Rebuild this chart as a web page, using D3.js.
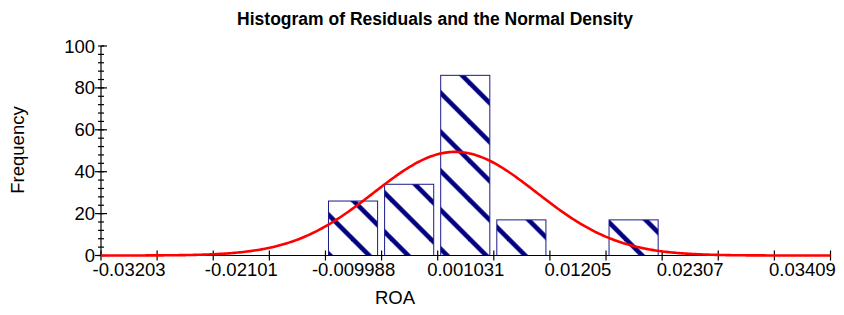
<!DOCTYPE html>
<html>
<head>
<meta charset="utf-8">
<script src="https://cdn.jsdelivr.net/npm/d3@7"></script>
<style>
  html, body { margin: 0; padding: 0; background: #fff; }
  svg { display: block; }
  text { font-family: Arial, "Liberation Sans", sans-serif; fill: #000; }
</style>
</head>
<body>
<svg id="chart" width="844" height="315"></svg>
<script>
// ---- data ----
const tickLabels = ["-0.03203", "-0.02101", "-0.009988", "0.001031", "0.01205", "0.02307", "0.03409"];
const tickValues = [-0.03203, -0.02101, -0.009988, 0.001031, 0.01205, 0.02307, 0.03409];
const binWidth = 0.00551;
const binCenters = [-0.009988, -0.004478, 0.001031, 0.006541, 0.01756];
const counts = [26, 34, 86, 17, 17];
const yTicks = [0, 20, 40, 60, 80, 100];
const residualMean = 0;
const residualSd = 0.008;

const title = "Histogram of Residuals and the Normal Density";
const xTitle = "ROA";
const yTitle = "Frequency";

// ---- layout ----
const svg = d3.select("#chart");
const plotLeft = 101, plotRight = 830.5, plotTop = 46, plotBottom = 255.5;
const domainLo = tickValues[0] - binWidth / 2;
const domainHi = tickValues[tickValues.length - 1] + binWidth / 2;

const x = d3.scaleLinear().domain([domainLo, domainHi]).range([plotLeft, plotRight]);
const y = d3.scaleLinear().domain([0, 100]).range([plotBottom, plotTop]);

// hatch pattern
const defs = svg.append("defs");
const pat = defs.append("pattern")
  .attr("id", "hatch")
  .attr("patternUnits", "userSpaceOnUse")
  .attr("x", 0).attr("y", 3.3)
  .attr("width", 39).attr("height", 39);
[-39, 0, 39].forEach(o => {
  pat.append("line")
    .attr("x1", o - 5).attr("y1", -5)
    .attr("x2", o + 44).attr("y2", 44)
    .attr("stroke", "#000080").attr("stroke-width", 4.6);
});

// title
svg.append("text")
  .attr("x", 435).attr("y", 25)
  .attr("text-anchor", "middle")
  .attr("font-weight", "bold")
  .attr("font-size", 17.5)
  .text(title);

// bars
const bars = svg.append("g");
binCenters.forEach((c, i) => {
  const x0 = x(c - binWidth / 2) + 3;
  const x1 = x(c + binWidth / 2) - 4;
  const yt = y(counts[i]);
  bars.append("rect").attr("x", x0).attr("y", yt).attr("width", x1 - x0).attr("height", plotBottom - yt)
    .attr("fill", "#fff");
  bars.append("rect").attr("x", x0).attr("y", yt).attr("width", x1 - x0).attr("height", plotBottom - yt)
    .attr("fill", "url(#hatch)")
    .attr("stroke", "#1a1a8c").attr("stroke-width", 1);
});

// axes lines
svg.append("line").attr("x1", plotLeft).attr("x2", plotRight).attr("y1", plotBottom).attr("y2", plotBottom)
  .attr("stroke", "#000").attr("stroke-width", 1.2);
svg.append("line").attr("x1", plotLeft).attr("x2", plotLeft).attr("y1", plotTop).attr("y2", plotBottom)
  .attr("stroke", "#000").attr("stroke-width", 1.2);

// x ticks at bin edges
const nEdges = Math.round((domainHi - domainLo) / binWidth);
const edges = d3.range(nEdges + 1).map(k => domainLo + k * binWidth);
svg.append("g").selectAll("line").data(edges).join("line")
  .attr("x1", d => x(d)).attr("x2", d => x(d))
  .attr("y1", plotBottom - 5).attr("y2", plotBottom + 5)
  .attr("stroke", "#000").attr("stroke-width", 1.2);

svg.append("g").selectAll("text").data(tickValues).join("text")
  .attr("x", d => x(d))
  .attr("y", 275.5)
  .attr("text-anchor", "middle")
  .attr("font-size", 18.5)
  .text((d, i) => tickLabels[i]);

// y ticks
const minor = d3.range(0, 101, 4);
svg.append("g").selectAll("line").data(minor).join("line")
  .attr("x1", plotLeft - 3).attr("x2", plotLeft + 3)
  .attr("y1", d => y(d)).attr("y2", d => y(d))
  .attr("stroke", "#000").attr("stroke-width", 1.2);
svg.append("g").selectAll("line").data(yTicks).join("line")
  .attr("x1", d => d === 100 ? plotLeft : plotLeft - 6).attr("x2", plotLeft + 6)
  .attr("y1", d => y(d)).attr("y2", d => y(d))
  .attr("stroke", "#000").attr("stroke-width", 1.2);
svg.append("g").selectAll("text").data(yTicks).join("text")
  .attr("x", 95)
  .attr("y", d => y(d) + 6.5)
  .attr("text-anchor", "end")
  .attr("font-size", 18.5)
  .text(d => d);

// normal density curve
const N = d3.sum(counts);
const densScale = N * binWidth / (residualSd * Math.sqrt(2 * Math.PI));
const pts = d3.range(0, 401).map(k => {
  const v = domainLo + (domainHi - domainLo) * k / 400;
  const z = (v - residualMean) / residualSd;
  return [v, densScale * Math.exp(-0.5 * z * z)];
});
svg.append("path")
  .datum(pts)
  .attr("fill", "none")
  .attr("stroke", "#ff0000")
  .attr("stroke-width", 2.6)
  .attr("d", d3.line().x(d => x(d[0])).y(d => y(d[1])));

// axis titles
svg.append("text")
  .attr("x", 395).attr("y", 304)
  .attr("text-anchor", "middle")
  .attr("font-size", 18.5)
  .text(xTitle);
svg.append("text")
  .attr("transform", "translate(24,150) rotate(-90)")
  .attr("text-anchor", "middle")
  .attr("font-size", 18.5)
  .text(yTitle);
</script>
</body>
</html>
